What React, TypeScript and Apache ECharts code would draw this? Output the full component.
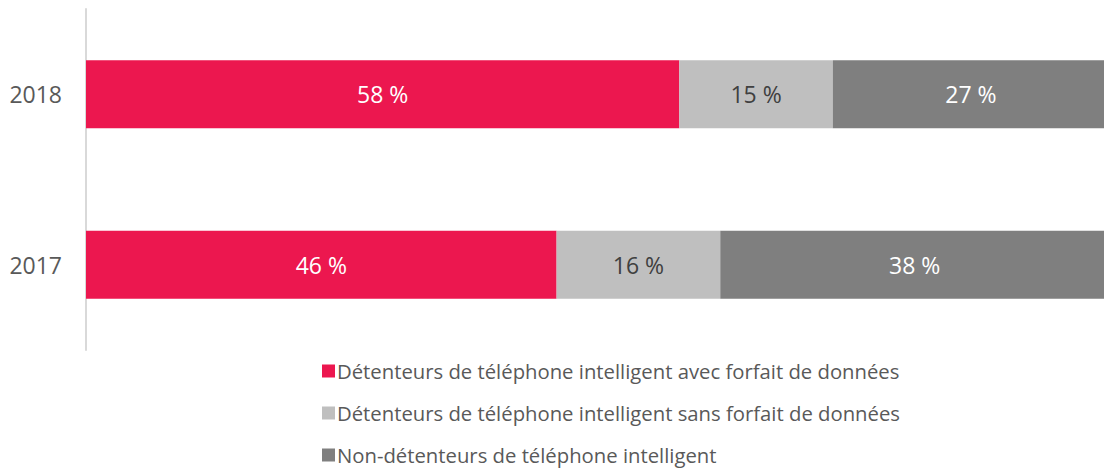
import React, { useEffect, useRef } from "react";
import * as echarts from "echarts";

const categories = ["2017", "2018"];
const seriesNames = [
  "Détenteurs de téléphone intelligent avec forfait de données",
  "Détenteurs de téléphone intelligent sans forfait de données",
  "Non-détenteurs de téléphone intelligent",
];
const withData = [46, 58];
const withoutData = [16, 15];
const nonOwners = [38, 27];
const colors = ["#EC174F", "#BFBFBF", "#7F7F7F"];
const labelColors = ["#FFFFFF", "#404040", "#FFFFFF"];

export default function App() {
  const ref = useRef<HTMLDivElement>(null);
  useEffect(() => {
    if (!ref.current) return;
    const chart = echarts.init(ref.current, undefined, { renderer: "svg" });
    const font = "'Open Sans', 'Segoe UI', sans-serif";
    const values = [withData, withoutData, nonOwners];
    chart.setOption({
      animation: false,
      textStyle: { fontFamily: font },
      grid: { left: 86, width: 1023, top: 9, height: 341, containLabel: false, outerBoundsMode: "none" },
      xAxis: {
        type: "value",
        min: 0,
        max: 100,
        show: false,
      },
      yAxis: {
        type: "category",
        data: categories,
        axisLine: { show: true, lineStyle: { color: "#D9D9D9", width: 2 } },
        axisTick: { show: false },
        axisLabel: { color: "#595959", fontSize: 23, margin: 24, fontFamily: font },
      },
      legend: {
        orient: "vertical",
        left: 322,
        top: 361,
        height: 110,
        padding: 0,
        itemWidth: 13,
        itemHeight: 13,
        itemGap: 22,
        icon: "rect",
        textStyle: { color: "#595959", fontSize: 20.3, lineHeight: 20, fontFamily: font, padding: [0, 0, 0, -3] },
        data: seriesNames,
      },
      series: seriesNames.map((name, i) => ({
        name,
        type: "bar",
        stack: "total",
        data: values[i],
        barWidth: "40%",
        itemStyle: { color: colors[i] },
        label: {
          show: true,
          position: "inside",
          formatter: (p: any) => `${p.value} %`,
          color: labelColors[i],
          fontSize: 23,
          fontFamily: font,
        },
      })),
    });
    return () => chart.dispose();
  }, []);
  return <div ref={ref} style={{ width: 1104, height: 468, position: "absolute", left: 0, top: 0 }} />;
}
